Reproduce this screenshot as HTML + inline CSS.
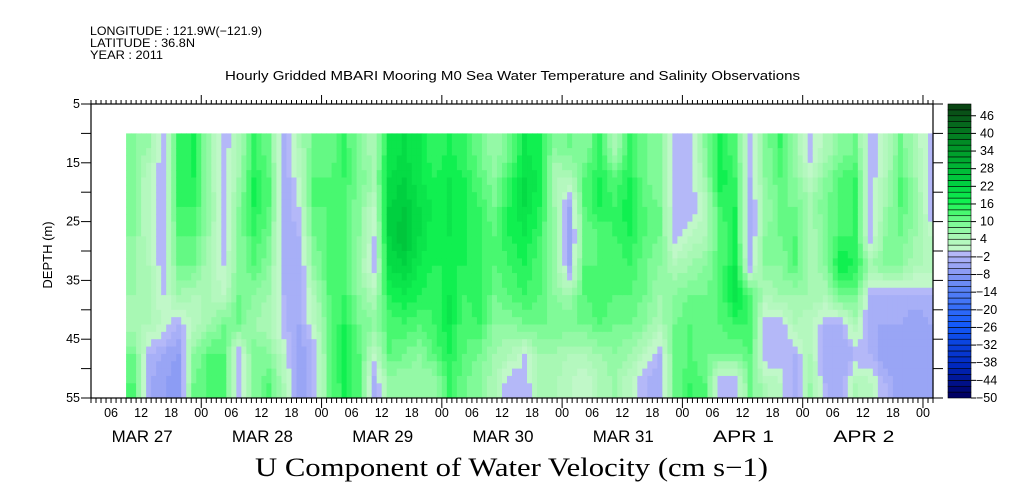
<!DOCTYPE html>
<html><head><meta charset="utf-8"><style>
body{margin:0;background:#fff;width:1009px;height:504px;overflow:hidden}
svg{display:block}
text{font-family:"Liberation Sans",sans-serif;fill:#000}
</style></head><body>
<svg id="chart" width="1009" height="504"></svg>
<script>
// ---- data ----
const depthEdges=[10,15,20,25,30,35,40,45,50,55];
const startHour=9; // hours after MAR 27 00:00
const stepHours=3;
const uValues=[
[8,8,8,8,6,6,4,10,12],[6,2,2,2,4,4,4,-2,-4],[-2,-2,-2,-2,-2,0,2,-4,-6],[14,14,14,12,10,6,-2,-6,-8],
[16,16,14,12,10,4,2,8,10],[6,6,8,6,4,4,6,12,12],[-2,-2,-2,-2,0,2,10,12,12],[4,6,8,8,8,10,10,-2,-2],
[14,16,16,14,12,8,6,10,8],[10,12,12,10,8,6,4,8,12],[-4,-4,-4,-4,-4,-2,-2,2,4],[4,2,0,-2,-4,-4,-4,-6,-6],
[10,12,12,10,8,4,2,-2,-2],[10,12,12,12,12,12,10,10,10],[14,14,12,12,12,14,16,18,16],[8,10,8,8,6,8,10,12,12],
[4,6,2,0,-2,4,8,2,-4],[18,20,22,22,20,16,12,12,6],[20,22,24,26,22,18,14,10,6],[18,18,20,20,18,16,12,8,6],
[14,16,18,16,16,14,14,12,6],[16,18,18,18,16,18,18,16,14],[14,16,16,16,16,14,12,12,10],[10,12,14,14,14,16,14,10,8],
[6,8,10,12,12,10,8,6,4],[10,14,16,16,14,12,8,4,-2],[18,20,20,18,16,14,10,0,-2],[16,18,16,14,12,12,10,6,4],
[8,4,6,6,6,8,10,6,4],[10,4,-4,-6,-4,6,10,4,2],[8,12,12,10,12,12,10,4,0],[14,16,16,12,12,14,12,6,4],
[4,12,14,14,12,12,10,8,6],[14,16,18,16,14,12,10,6,2],[10,10,12,12,10,10,8,2,-2],[8,8,10,10,8,6,4,-2,-4],
[-2,-2,-2,-2,4,8,10,10,10],[-2,-2,-2,2,6,10,12,12,14],[8,6,2,4,8,10,10,10,12],[16,18,14,12,12,12,12,10,-2],
[12,14,16,16,18,20,14,10,-2],[-2,-2,-4,-4,-2,12,14,12,10],[8,8,6,8,8,4,-2,-2,4],[14,12,10,10,8,6,-2,-2,2],
[6,8,10,12,12,6,4,-2,-4],[-2,2,6,4,4,6,2,4,6],[4,8,10,8,8,4,-2,-4,-2],[8,12,12,14,18,10,-2,-4,-4],
[10,14,14,14,16,10,4,-2,4],[-2,-2,-2,-2,6,-2,-4,-2,2],[2,4,6,8,8,-2,-4,-6,-2],[10,12,12,10,8,-2,-4,-6,-6],
[4,6,8,6,4,-2,-6,-4,-6],[-2,-2,-2,2,4,-2,-4,-6,-6]
];
const yTicks=[5,15,25,35,45,55];
const cbTicks=[46,40,34,28,22,16,10,4,-2,-8,-14,-20,-26,-32,-38,-44,-50];
const dateLabels=["MAR 27","MAR 28","MAR 29","MAR 30","MAR 31","APR  1","APR  2"];
const hourLabels=["00","06","12","18"];

// ---- axes ----
const X0=91,X1=933,Y0=104,Y1=398;
const T0=2,T1=170;
const DMIN=5,DMAX=55;
const xs=h=>X0+(h-T0)*(X1-X0)/(T1-T0);
const ys=d=>Y0+(d-DMIN)*(Y1-Y0)/(DMAX-DMIN);
const CB0=-50,CB1=50;
const cbY=v=>Y1-(v-CB0)*(Y1-Y0)/(CB1-CB0);

const NS="http://www.w3.org/2000/svg";
const svg=document.getElementById('chart');
function mk(tag,attrs,parent){const e=document.createElementNS(NS,tag);for(const k in attrs)e.setAttribute(k,attrs[k]);(parent||svg).appendChild(e);return e;}
function hex(c){return '#'+c.map(v=>Math.max(0,Math.min(255,Math.round(v))).toString(16).padStart(2,'0')).join('');}
function color(v){
  const b=Math.floor(v/2)*2;
  const stops=[[-50,[0,0,100]],[-40,[0,40,190]],[-26,[20,90,250]],[-14,[90,130,245]],[-8,[140,156,244]],[-2,[180,184,248]],
               [0,[192,248,200]],[4,[168,248,180]],[8,[128,250,152]],[12,[72,248,112]],[16,[16,240,80]],[22,[0,208,64]],[34,[0,150,40]],[48,[10,70,20]]];
  for(let i=0;i<stops.length-1;i++){const[a,ca]=stops[i],[z,cz]=stops[i+1];if(b>=a&&b<=z){const t=(b-a)/(z-a)||0;return hex(ca.map((c,k)=>c+(cz[k]-c)*t));}}
  return b<0?hex(stops[0][1]):hex(stops[stops.length-1][1]);
}

// heatmap (rendered with bilinear smoothing between cell centers)
const hm=mk('g',{});


const NC=uValues.length,NR=depthEdges.length-1;
function val(ci,ri){ci=Math.max(0,Math.min(NC-1,ci));ri=Math.max(0,Math.min(NR-1,ri));return uValues[ci][ri];}
const SX=3,SY=4;
for(let j=0;j<NC;j++){
  for(let sx=0;sx<SX;sx++){
    const ta=startHour+(j+sx/SX)*stepHours,tb=startHour+(j+(sx+1)/SX)*stepHours;
    const xa=xs(ta),xb=Math.min(xs(tb),X1);
    if(xa>=X1)continue;
    const fc=j+(sx+0.5)/SX-0.5;
    const c0=Math.floor(fc),tc=fc-c0;
    for(let i=0;i<NR;i++){
      for(let sy=0;sy<SY;sy++){
        const da=depthEdges[i]+(depthEdges[i+1]-depthEdges[i])*sy/SY,db=depthEdges[i]+(depthEdges[i+1]-depthEdges[i])*(sy+1)/SY;
        const fr=i+(sy+0.5)/SY-0.5;
        const r0=Math.floor(fr),tr=fr-r0;
        const v=(val(c0,r0)*(1-tc)+val(c0+1,r0)*tc)*(1-tr)+(val(c0,r0+1)*(1-tc)+val(c0+1,r0+1)*tc)*tr;
        const ya=ys(da),yb=ys(db);
        const r=mk('rect',{x:xa.toFixed(2),y:ya.toFixed(2),width:(xb-xa+0.6).toFixed(2),height:(yb-ya+0.6).toFixed(2),fill:color(v)},hm);
        
        
      }
    }
  }
}

// frame
const frm=mk('rect',{x:X0,y:Y0,width:X1-X0,height:Y1-Y0,fill:'none',stroke:'#000','stroke-width':1.2});



// x ticks
for(let h=T0;h<=T1;h++){
  const x=xs(h),major=h%24===0;
  mk('line',{x1:x,x2:x,y1:Y1,y2:Y1+(major?10:5),stroke:'#000'});
  mk('line',{x1:x,x2:x,y1:Y0,y2:Y0-(major?9:4),stroke:'#000'});
  if(h%6===0){
    const t=mk('text',{x:x,y:417,'text-anchor':'middle','font-size':12.5});
    t.textContent=hourLabels[(h%24)/6];
    
    
  }
}
dateLabels.forEach((d,i)=>{
  const t=mk('text',{x:xs(i*24+12)+1,y:442,'text-anchor':'middle','font-size':17,textLength:61,lengthAdjust:'spacingAndGlyphs','xml:space':'preserve'});
  t.textContent=d;
  
  
});

// y ticks
for(let d=DMIN;d<=DMAX;d+=5){
  const y=ys(d);
  mk('line',{x1:X0-10,x2:X0,y1:y,y2:y,stroke:'#000'});
  mk('line',{x1:X1,x2:X1+10,y1:y,y2:y,stroke:'#000'});
}
yTicks.forEach(d=>{
  const t=mk('text',{x:80,y:ys(d)+4,'text-anchor':'end','font-size':12.5});
  t.textContent=d;
  
  
});

// colorbar
const cb=mk('g',{});


for(let v=CB0;v<CB1;v+=2){
  const r=mk('rect',{x:948,y:cbY(v+2),width:23,height:cbY(v)-cbY(v+2),fill:color(v),stroke:'#000','stroke-width':0.6},cb);
  
  
}
cbTicks.forEach(v=>{
  const y=cbY(v);
  mk('line',{x1:971,x2:976,y1:y,y2:y,stroke:'#000'},cb);
  const t=mk('text',{x:v<0?976:980,y:y+4,'font-size':12.5},cb);
  t.textContent=v<0?'\u2212'+(-v):String(v);
  
  
});
</script>
<svg style="position:absolute;left:0;top:0" width="1009" height="504">
<text x="90" y="35" font-size="12" textLength="172" lengthAdjust="spacingAndGlyphs">LONGITUDE : 121.9W(−121.9)</text>
<text x="90" y="47" font-size="12" textLength="105" lengthAdjust="spacingAndGlyphs">LATITUDE : 36.8N</text>
<text x="90" y="59" font-size="12" textLength="73" lengthAdjust="spacingAndGlyphs">YEAR : 2011</text>
<text x="225" y="80" font-size="13" textLength="575" lengthAdjust="spacingAndGlyphs">Hourly Gridded MBARI Mooring M0 Sea Water Temperature and Salinity Observations</text>
<text x="52" y="255" font-size="13" text-anchor="middle" transform="rotate(-90 52 255)">DEPTH (m)</text>
<text x="255" y="476" font-size="26" textLength="513" lengthAdjust="spacingAndGlyphs" style="font-family:'Liberation Serif',serif">U Component of Water Velocity (cm s−1)</text>
</svg>
</body></html>
